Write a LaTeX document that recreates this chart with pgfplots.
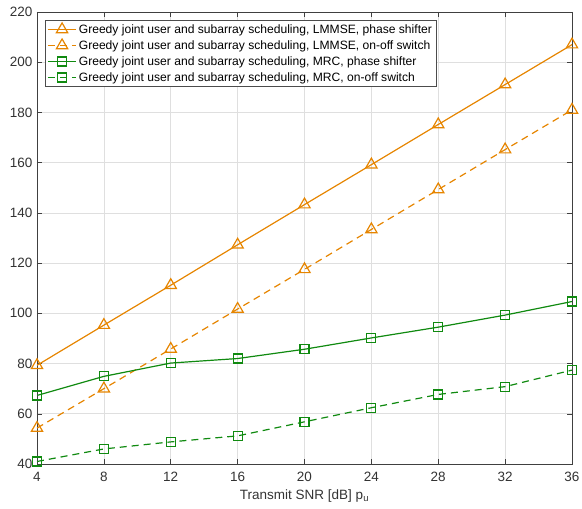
\documentclass[border=0pt]{standalone}
\usepackage{fontspec}
\setmainfont{Liberation Sans}
\usepackage{pgfplots}
\pgfplotsset{compat=1.18}
\definecolor{mor}{RGB}{230,133,0}
\definecolor{mgr}{RGB}{16,138,16}
\definecolor{gridc}{RGB}{223,223,223}
\begin{document}
\begin{tikzpicture}
\useasboundingbox (-37bp,-45bp) rectangle (545bp,464bp);
\begin{axis}[
  at={(0,0)}, anchor=south west,
  scale only axis, width=535bp, height=452bp,
  xmin=4, xmax=36, ymin=40, ymax=220,
  xtick={4,8,...,36}, ytick={40,60,...,220},
  tick align=inside, major tick length=5bp,
  tick style={color=black!75, line width=0.5bp},
  axis line style={black!75, line width=0.6bp},
  grid=major, major grid style={gridc, line width=0.6bp},
  /pgf/number format/assume math mode=true,
  ticklabel style={font=\fontsize{13.5bp}{15bp}\selectfont, text=black!80},
  xticklabel style={yshift=-5bp},
  yticklabel style={xshift=-1bp},
  xlabel={Transmit SNR [dB] p\textsubscript{u}},
  xlabel style={font=\fontsize{13.5bp}{15bp}\selectfont, text=black!80, yshift=-1bp},
  legend style={at={(8bp,444bp)}, anchor=north west, draw=black!70, line width=0.6bp,
    font=\fontsize{12.1bp}{14.5bp}\selectfont, inner xsep=2bp, inner ysep=2bp,
    row sep=1.8bp},
  legend cell align=left,
  legend image code/.code={\draw[mark repeat=2,mark phase=2,#1] plot coordinates {(0cm,0cm) (0.5cm,0cm) (1cm,0cm)};},
  legend image post style={line width=1.2bp},
  every axis plot/.append style={line width=1.2bp},
]
\addplot[mor, mark=triangle, mark size=6.5bp, mark options={solid}] coordinates {
(4,79.3) (8,95.3) (12,111.2) (16,127.3) (20,143.3) (24,159.2) (28,175.2) (32,191.1) (36,207.0)};
\addlegendentry{Greedy joint user and subarray scheduling, LMMSE, phase shifter}
\addplot[mor, dash pattern=on 7bp off 5bp, mark=triangle, mark size=6.5bp, mark options={solid}] coordinates {
(4,54.3) (8,70.0) (12,85.8) (16,101.7) (20,117.5) (24,133.4) (28,149.3) (32,165.2) (36,181.0)};
\addlegendentry{Greedy joint user and subarray scheduling, LMMSE, on-off switch}
\addplot[mgr, mark=square, mark size=4.5bp, mark options={solid}] coordinates {
(4,67.3) (8,74.9) (12,80.2) (16,82.0) (20,85.7) (24,90.2) (28,94.5) (32,99.3) (36,104.7)};
\addlegendentry{Greedy joint user and subarray scheduling, MRC, phase shifter}
\addplot[mgr, dash pattern=on 7bp off 5bp, mark=square, mark size=4.5bp, mark options={solid}] coordinates {
(4,41.0) (8,46.0) (12,48.8) (16,51.2) (20,56.8) (24,62.4) (28,67.7) (32,70.8) (36,77.4)};
\addlegendentry{Greedy joint user and subarray scheduling, MRC, on-off switch}
\end{axis}
\end{tikzpicture}
\end{document}
